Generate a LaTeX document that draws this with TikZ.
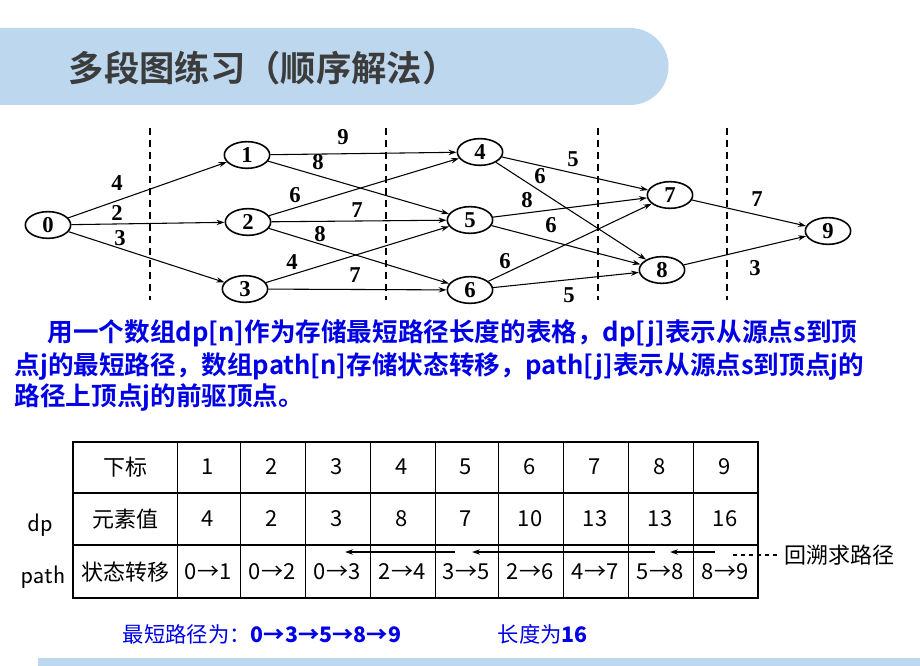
\documentclass[tikz,border=0pt]{standalone}
\usepackage{fontspec}
\setmainfont{Liberation Serif}
\newfontfamily\cjk{Noto Sans CJK SC}
\newfontfamily\cjkb{Noto Sans CJK SC Bold}
\usetikzlibrary{shapes.geometric,arrows.meta}
\definecolor{bandblue}{RGB}{189,215,238}
\definecolor{txtblue}{RGB}{0,0,230}
\tikzset{
  vert/.style={ellipse,draw,line width=1.2pt,minimum width=34pt,minimum height=20pt,inner sep=0pt,font=\bfseries\fontsize{17}{17}\selectfont},
  edge/.style={-{Stealth[length=6pt,width=4pt]},line width=0.8pt},
  wt/.style={font=\bfseries\fontsize{17}{17}\selectfont},
  stage/.style={dashed,line width=1pt,dash pattern=on 5pt off 4pt},
  cell/.style={font=\cjk\fontsize{16.5}{16.5}\selectfont},
  para/.style={anchor=west,text=txtblue,font=\cjkb\fontsize{19.2}{19.2}\selectfont}
}
\begin{document}
\begin{tikzpicture}[x=0.75pt,y=0.75pt,yscale=-1]
\useasboundingbox (0,0) rectangle (920,666);
% header band
\fill[bandblue] (0,28) -- (630,28) arc[start angle=-90,end angle=90,radius=38.5] -- (0,105) -- cycle;
\node[anchor=west,text={rgb,255:red,60;green,60;blue,60},font=\cjkb\fontsize{26.5}{26.5}\selectfont] (title) at (64,68) {多段图练习（顺序解法）};
% stage separators
\foreach \x in {150,386,598,727} \draw[stage] (\x,128) -- (\x,300);
% vertices
\node[vert] (v0) at (48,225) {0};
\node[vert] (v1) at (247,155) {1};
\node[vert] (v2) at (248,222) {2};
\node[vert] (v3) at (245,289) {3};
\node[vert] (v4) at (480,152) {4};
\node[vert] (v5) at (470,220) {5};
\node[vert] (v6) at (470,290) {6};
\node[vert] (v7) at (670,195) {7};
\node[vert] (v8) at (662,270) {8};
\node[vert] (v9) at (828,231) {9};
% edges
\foreach \a/\b in {0/1,0/2,0/3,1/4,1/5,2/4,2/5,2/6,3/5,3/6,4/7,4/8,5/7,5/8,6/7,6/8,7/9,8/9}
  \draw[edge] (v\a) -- (v\b);
% weights
\foreach \p/\w in {{117,183}/4,{117,213}/2,{120,238}/3,{343,137}/9,{318,162}/8,{295,195}/6,{357,210}/7,{320,234}/8,{292,262}/4,{355,275}/7,{573,159}/5,{540,176}/6,{527,200}/8,{551,225}/6,{505,261}/6,{569,295}/5,{757,199}/7,{755,268}/3}
  \node[wt] at (\p) {\w};
% description
\node[para] (l1) at (43,333) {用一个数组dp[n]作为存储最短路径长度的表格，dp[j]表示从源点s到顶};
\node[para] (l2) at (10,366) {点j的最短路径，数组path[n]存储状态转移，path[j]表示从源点s到顶点j的};
\node[para] (l3) at (10,398) {路径上顶点j的前驱顶点。};
% table
\draw[line width=1.2pt] (73,442) rectangle (758,598);
\foreach \y in {493,545} \draw[line width=1pt] (73,\y) -- (758,\y);
\foreach \x in {177,240,305,370,435,498,563,628,693} \draw[line width=0.6pt] (\x,442) -- (\x,598);
\node[cell] at (125,467) {下标};
\node[cell] at (125,519) {元素值};
\node[cell] at (125,572) {状态转移};
\foreach \i/\x/\d/\s in {1/208/4/0→1,2/272/2/0→2,3/337/3/0→3,4/402/8/2→4,5/466/7/3→5,6/530/10/2→6,7/595/13/4→7,8/660/13/5→8,9/725/16/8→9}{
  \node[cell] at (\x,467) {\i};
  \node[cell] at (\x,519) {\d};
  \node[cell] (p\i) at (\x,572) {\s};
}
\node[font=\sffamily\fontsize{19}{19}\selectfont] (dp) at (40,525) {dp};
\node[font=\sffamily\fontsize{19}{19}\selectfont] (path) at (43,577) {path};
% backtrack arrows
\draw[edge,line width=1.2pt] (455,552) -- (345,552);
\draw[edge,line width=1.2pt] (655,552) -- (472,552);
\draw[edge,line width=1.2pt] (715,552) -- (670,552);
\node[cell,anchor=west] (back) at (780,555) {回溯求路径};
\draw[dashed,line width=1pt] (733,555) -- (back.west);
% result
\node[anchor=west,text=txtblue,font=\cjk\fontsize{16}{16}\selectfont] (res) at (118,634) {最短路径为：\textbf{0→3→5→8→9}};
\node[anchor=west,text=txtblue,font=\cjk\fontsize{16}{16}\selectfont] (len) at (493,634) {长度为\textbf{16}};
\fill[bandblue] (38,658) rectangle (920,666);
\end{tikzpicture}
\end{document}
